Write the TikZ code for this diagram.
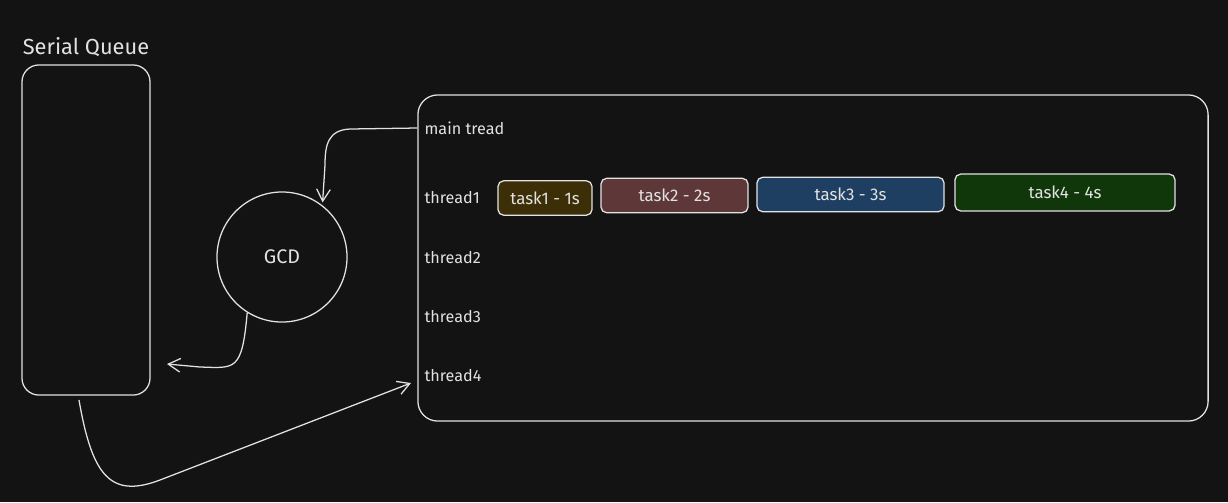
\documentclass[tikz,border=0pt]{standalone}
\usepackage{fontspec}
\setmainfont{Fira Sans}
\usetikzlibrary{arrows.meta}
\definecolor{bg}{HTML}{131313}
\definecolor{ink}{HTML}{E2E2E2}
\definecolor{taskA}{HTML}{3C2F07}
\definecolor{taskB}{HTML}{5E3838}
\definecolor{taskC}{HTML}{1F3F62}
\definecolor{taskD}{HTML}{0F370A}
\begin{document}
\begin{tikzpicture}[x=0.025cm,y=-0.025cm,color=ink,line width=0.9pt,
  box/.style={draw,rounded corners=12pt,inner sep=0pt},
  thr/.style={anchor=west,inner sep=0pt,font=\fontsize{11.5}{13}\selectfont},
  task/.style={draw,rounded corners=4pt,inner sep=0pt,minimum height=0.86cm,font=\fontsize{12}{14}\selectfont},
  arr/.style={-{Straight Barb[length=3mm,width=3.4mm]},line width=0.9pt}]
\fill[bg] (0,0) rectangle (1228,502);
\node[box,minimum width=3.2cm,minimum height=8.25cm] (sq) at (86,230) {};
\node[font=\fontsize{15.5}{18}\selectfont] (sqname) at (86,47) {Serial Queue};
\node[draw,circle,minimum size=3.25cm,inner sep=0pt,font=\fontsize{14}{16}\selectfont] (gcd) at (282,257) {GCD};
\node[box,rounded corners=14pt,minimum width=19.75cm,minimum height=8.15cm] (pool) at (813,258) {};
\node[thr] (lblmain) at (424,128) {main tread};
\node[thr] (t1) at (424,198) {thread1};
\node[thr] (t2) at (424,258) {thread2};
\node[thr] (t3) at (424,317) {thread3};
\node[thr] (t4) at (424,376) {thread4};
\node[task,fill=taskA,minimum width=2.35cm] (task1) at (545,198) {task1 - 1s};
\node[task,fill=taskB,minimum width=3.675cm] (task2) at (674.5,195.5) {task2 - 2s};
\node[task,fill=taskC,minimum width=4.675cm] (task3) at (850.5,194.5) {task3 - 3s};
\node[task,fill=taskD,minimum width=5.5cm,minimum height=0.92cm] (task4) at (1065,192.5) {task4 - 4s};
\coordinate (sqout) at (79,400);
\coordinate (sqin) at (167,364);
\coordinate (t4in) at (411,383);
\draw[arr,shorten >=2pt] (pool.west |- lblmain) -- (350,129) .. controls (328,130) and (325,145) .. (325,165) -- (gcd.52);
\draw[arr] (gcd.-122) .. controls (242,372) and (235,368) .. (200,367) -- (sqin);
\draw[arr] (sqout) .. controls (92,475) and (110,499) .. (160,480) -- (t4in);
\end{tikzpicture}
\end{document}
